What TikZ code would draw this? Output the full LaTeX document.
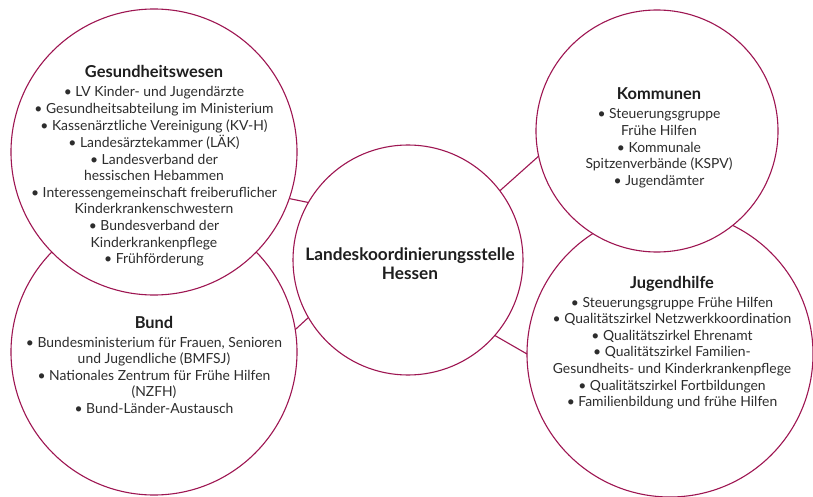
\documentclass[tikz,border=0pt]{standalone}
\usepackage{fontspec}
\setmainfont{Lato}
\definecolor{ringcol}{RGB}{158,22,82}
\definecolor{txtcol}{RGB}{45,45,45}
\definecolor{ttlcol}{RGB}{30,30,30}
\newcommand\blockt[2]{{\setlength{\tabcolsep}{0pt}\fontsize{13.9}{16.6}\selectfont
\begin{tabular}[t]{c}{\fontsize{16.4}{16.6}\selectfont\bfseries\color{ttlcol}#1}\\[2.4pt]#2\end{tabular}}}
\begin{document}
\begin{tikzpicture}[x=1pt,y=-1pt,
  ring/.style={circle,draw=ringcol,line width=1.1pt,fill=white,inner sep=0pt,outer sep=0pt,minimum size=#1},
  link/.style={draw=ringcol,line width=1.1pt},
  txt/.style={anchor=base,inner sep=0pt,text=txtcol,align=center}]
\useasboundingbox (0,0) rectangle (813,497);
\fill[white] (0,0) rectangle (813,497);
\node[ring=286pt] (b) at (154,352) {};
\node[ring=286pt] (j) at (670,354) {};
\node[ring=286pt] (g) at (154,152) {};
\node[ring=242pt] (k) at (657,131) {};
\node[ring=230pt] (c) at (408,260) {};
\draw[link] (g.-19) -- (c.150);
\draw[link] (b.9.6) -- (c.210);
\draw[link] (c.37) -- (k.192.6);
\draw[link] (c.-41) -- (j.180);
\node[txt] (gt) at (154,78) {\blockt{Gesundheitswesen}{%
\textbullet{} LV Kinder- und Jugendärzte\\
\textbullet{} Gesundheitsabteilung im Ministerium\\
\textbullet{} Kassenärztliche Vereinigung (KV-H)\\
\textbullet{} Landesärztekammer (LÄK)\\
\textbullet{} Landesverband der\\
hessischen Hebammen\\
\textbullet{} Interessengemeinschaft freiberuflicher\\
Kinderkrankenschwestern\\
\textbullet{} Bundesverband der\\
Kinderkrankenpflege\\
\textbullet{} Frühförderung}};
\node[txt] (bt) at (154,328) {\blockt{Bund}{%
\textbullet{} Bundesministerium für Frauen, Senioren\\
und Jugendliche (BMFSJ)\\
\textbullet{} Nationales Zentrum für Frühe Hilfen\\
(NZFH)\\
\textbullet{} Bund-Länder-Austausch}};
\node[txt] (kt) at (659,100) {\blockt{Kommunen}{%
\textbullet{} Steuerungsgruppe\\
Frühe Hilfen\\
\textbullet{} Kommunale\\
Spitzenverbände (KSPV)\\
\textbullet{} Jugendämter}};
\node[txt] (jt) at (672,288) {\blockt{Jugendhilfe}{%
\textbullet{} Steuerungsgruppe Frühe Hilfen\\
\textbullet{} Qualitätszirkel Netzwerkkoordination\\
\textbullet{} Qualitätszirkel Ehrenamt\\
\textbullet{} Qualitätszirkel Familien-\\
Gesundheits- und Kinderkrankenpflege\\
\textbullet{} Qualitätszirkel Fortbildungen\\
\textbullet{} Familienbildung und frühe Hilfen}};
\node[txt,text=ttlcol,font=\fontsize{17.2}{19.5}\selectfont\bfseries] (ct) at (410,260) {\begin{tabular}[t]{@{}c@{}}Landeskoordinierungsstelle\\Hessen\end{tabular}};
\end{tikzpicture}
\end{document}
